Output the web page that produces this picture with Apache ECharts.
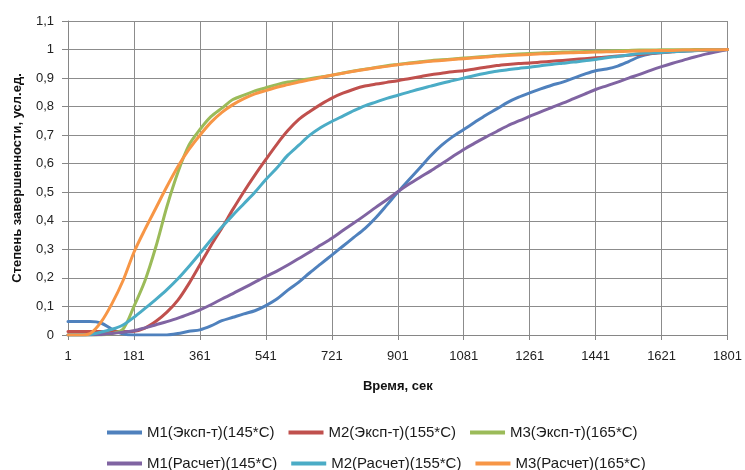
<!DOCTYPE html>
<html>
<head>
<meta charset="utf-8">
<script src="https://cdn.jsdelivr.net/npm/echarts@6/dist/echarts.min.js"></script>
<style>html,body{margin:0;padding:0;background:#fff}#c{width:745px;height:470px}</style>
</head>
<body>
<div id="c"></div>
<script>
// time, seconds (category axis), every 30 s
const times = [1,31,61,91,121,151,181,211,241,271,301,331,361,391,421,451,481,511,541,571,601,631,661,691,721,751,781,811,841,871,901,931,961,991,1021,1051,1081,1111,1141,1171,1201,1231,1261,1291,1321,1351,1381,1411,1441,1471,1501,1531,1561,1591,1621,1651,1681,1711,1741,1771,1801];

const seriesNames = ['M1(Эксп-т)(145*C)','M2(Эксп-т)(155*C)','M3(Эксп-т)(165*C)','M1(Расчет)(145*C)','M2(Расчет)(155*C)','M3(Расчет)(165*C)'];

const m1Exp = [0.047,0.047,0.047,0.042,0.02,0.004,0,0,0,0,0.005,0.013,0.018,0.032,0.05,0.062,0.074,0.085,0.103,0.126,0.157,0.185,0.218,0.249,0.28,0.311,0.342,0.373,0.411,0.455,0.5,0.543,0.585,0.628,0.665,0.695,0.72,0.745,0.77,0.792,0.815,0.833,0.848,0.862,0.875,0.886,0.9,0.914,0.926,0.932,0.942,0.958,0.975,0.985,0.99,0.993,0.995,0.997,0.998,0.999,1];
const m2Exp = [0.012,0.012,0.012,0.012,0.012,0.012,0.013,0.024,0.048,0.08,0.122,0.18,0.246,0.313,0.375,0.44,0.502,0.56,0.615,0.668,0.716,0.755,0.783,0.808,0.83,0.847,0.861,0.872,0.879,0.885,0.891,0.898,0.905,0.912,0.917,0.922,0.926,0.932,0.938,0.944,0.948,0.951,0.953,0.956,0.959,0.962,0.965,0.968,0.971,0.974,0.977,0.98,0.983,0.986,0.989,0.992,0.995,0.997,0.998,0.999,1];
const m3Exp = [0,0,0,0,0.005,0.02,0.1,0.19,0.31,0.45,0.57,0.665,0.72,0.765,0.795,0.825,0.84,0.855,0.866,0.877,0.886,0.892,0.898,0.904,0.91,0.918,0.925,0.931,0.937,0.943,0.948,0.953,0.957,0.961,0.964,0.967,0.97,0.973,0.976,0.979,0.982,0.984,0.986,0.988,0.99,0.991,0.992,0.993,0.994,0.995,0.996,0.997,0.998,0.998,0.999,0.999,0.999,1,1,1,1];
const m1Calc = [0,0,0,0.002,0.005,0.01,0.015,0.025,0.036,0.047,0.059,0.073,0.088,0.106,0.126,0.145,0.165,0.185,0.205,0.224,0.245,0.268,0.291,0.315,0.339,0.366,0.392,0.419,0.447,0.474,0.502,0.528,0.552,0.575,0.6,0.625,0.65,0.672,0.693,0.713,0.733,0.75,0.766,0.782,0.797,0.812,0.828,0.844,0.86,0.873,0.886,0.9,0.913,0.927,0.94,0.952,0.963,0.974,0.984,0.992,1];
const m2Calc = [0,0,0.002,0.01,0.02,0.035,0.062,0.093,0.125,0.159,0.197,0.24,0.286,0.333,0.378,0.42,0.46,0.5,0.545,0.585,0.63,0.665,0.7,0.727,0.748,0.767,0.786,0.803,0.816,0.829,0.84,0.851,0.862,0.872,0.882,0.891,0.9,0.909,0.917,0.924,0.929,0.934,0.938,0.943,0.948,0.952,0.956,0.961,0.965,0.971,0.976,0.981,0.986,0.988,0.99,0.992,0.994,0.996,0.998,0.999,1];
const m3Calc = [0,0,0.005,0.045,0.11,0.19,0.29,0.37,0.445,0.52,0.59,0.65,0.70,0.745,0.78,0.807,0.828,0.845,0.856,0.868,0.877,0.886,0.894,0.902,0.91,0.917,0.924,0.93,0.936,0.941,0.947,0.951,0.955,0.959,0.962,0.965,0.968,0.971,0.974,0.977,0.979,0.981,0.983,0.985,0.986,0.988,0.989,0.99,0.991,0.992,0.993,0.994,0.995,0.996,0.997,0.997,0.998,0.998,0.999,0.999,1];

const yTicks = ['0','0,1','0,2','0,3','0,4','0,5','0,6','0,7','0,8','0,9','1','1,1'];

const colors = ['#4F81BD','#C0504D','#9BBB59','#8064A2','#4BACC6','#F79646'];
const values = [m1Exp, m2Exp, m3Exp, m1Calc, m2Calc, m3Calc];
const FONT = 'Liberation Sans';

const chart = echarts.init(document.getElementById('c'), null, {renderer: 'canvas'});
const legendCommon = {
  icon: 'rect', itemWidth: 35, itemHeight: 4, itemGap: 14, padding: 0,
  left: 107, orient: 'horizontal',
  textStyle: {fontFamily: FONT, fontSize: 15, color: '#1a1a1a', width: 135}
};
chart.setOption({
  animation: false,
  color: colors,
  grid: {left: 68, right: 17, top: 21, bottom: 135, containLabel: false},
  legend: [
    Object.assign({}, legendCommon, {top: 425, data: seriesNames.slice(0,3)}),
    Object.assign({}, legendCommon, {top: 456, data: seriesNames.slice(3,6)})
  ],
  xAxis: {
    type: 'category', data: times, boundaryGap: false,
    name: 'Время, сек', nameLocation: 'middle', nameGap: 45,
    nameTextStyle: {fontFamily: FONT, fontSize: 13, fontWeight: 'bold', color: '#111'},
    axisLine: {lineStyle: {color: '#868686', width: 1}},
    axisTick: {show: true, interval: 5, length: 5, lineStyle: {color: '#868686'}},
    axisLabel: {interval: 5, margin: 15, fontFamily: FONT, fontSize: 13, color: '#222'},
    splitLine: {show: true, interval: 5, lineStyle: {color: '#8c8c8c', width: 1}}
  },
  yAxis: {
    type: 'value', min: 0, max: 1.1, interval: 0.1,
    name: 'Степень завершенности, усл.ед.', nameLocation: 'middle', nameGap: 44, nameRotate: 90,
    nameTextStyle: {fontFamily: FONT, fontSize: 13, fontWeight: 'bold', color: '#111'},
    axisLine: {show: true, lineStyle: {color: '#868686', width: 1}},
    axisTick: {show: true, length: 6, inside: false, lineStyle: {color: '#868686'}},
    axisLabel: {margin: 14, fontFamily: FONT, fontSize: 13, color: '#222',
      formatter: function (v) { return yTicks[Math.round(v * 10)]; }},
    splitLine: {show: true, lineStyle: {color: '#8c8c8c', width: 1}}
  },
  series: seriesNames.map(function (n, i) {
    return {
      name: n, type: 'line', data: values[i], symbol: 'none', smooth: 0.3,
      lineStyle: {width: 3, color: colors[i], join: 'round', cap: 'round'},
      itemStyle: {color: colors[i]}
    };
  })
});
</script>
</body>
</html>
